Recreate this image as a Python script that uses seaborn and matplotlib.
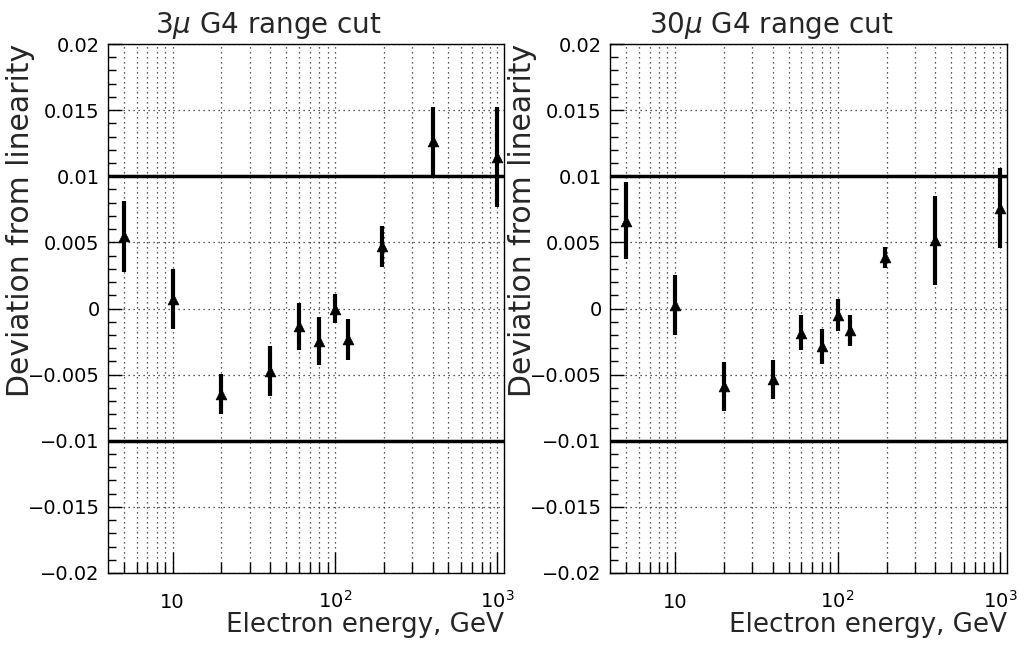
import matplotlib
matplotlib.use("Agg")
import matplotlib.pyplot as plt
import seaborn as sns
import pandas as pd
from matplotlib.ticker import FixedLocator, FixedFormatter, MultipleLocator, FuncFormatter

# Beam energies (GeV)
energy = [5, 10, 20, 40, 60, 80, 100, 120, 195, 400, 1000]

# Deviation from linearity and its uncertainty, 3 micron range cut
dev_3um = [0.00545, 0.0007, -0.00648, -0.00474, -0.00136, -0.00247, 0.0,
           -0.00234, 0.0047, 0.01263, 0.01144]
err_3um = [0.0027, 0.00227, 0.0015, 0.00187, 0.00177, 0.0018, 0.0011,
           0.00158, 0.00155, 0.00257, 0.00376]

# Deviation from linearity and its uncertainty, 30 micron range cut
dev_30um = [0.00663, 0.00025, -0.00588, -0.00535, -0.00182, -0.00287, -0.00049,
            -0.00164, 0.00388, 0.00515, 0.00761]
err_30um = [0.0029, 0.00227, 0.00187, 0.00149, 0.00134, 0.00129, 0.0012,
            0.00116, 0.00078, 0.00337, 0.003]

titles = ["3$\\mu$ G4 range cut", "30$\\mu$ G4 range cut"]
limits = [0.01, -0.01]
xtick_vals = [10, 100, 1000]
xtick_labels = ["10", "$10^{2}$", "$10^{3}$"]
xlabel = "Electron energy, GeV"
ylabel = "Deviation from linearity"

sns.set_theme(style="white")
plt.rcParams["font.family"] = ["DejaVu Sans"]
plt.rcParams["mathtext.fontset"] = "dejavusans"
plt.rcParams["axes.unicode_minus"] = True

W, H = 1030, 649
fig = plt.figure(figsize=(W / 100, H / 100), dpi=100)
fig.patch.set_facecolor("white")

boxes = [(108, 44, 504, 573), (610, 44, 1007, 573)]
panels = [(dev_3um, err_3um), (dev_30um, err_30um)]


def yfmt(v, _pos):
    if abs(v) < 1e-12:
        return "0"
    s = f"{v:.3f}".rstrip("0")
    return s.replace("-", "\u2212")


for (x0, y0, x1, y1), (dev, err), title in zip(boxes, panels, titles):
    ax = fig.add_axes([x0 / W, 1 - y1 / H, (x1 - x0) / W, (y1 - y0) / H])
    ax.set_facecolor("white")
    ax.set_xscale("log")
    ax.set_xlim(4, 1100)
    ax.set_ylim(-0.02, 0.02)

    # dotted grid on every log tick along x, major steps along y
    minors = [m * 10 ** d for d in range(0, 3) for m in range(2, 10)]
    minors = [v for v in minors if 4 < v < 1100 and v not in xtick_vals]
    ax.xaxis.set_major_locator(FixedLocator(xtick_vals))
    ax.xaxis.set_major_formatter(FixedFormatter(xtick_labels))
    ax.xaxis.set_minor_locator(FixedLocator(minors))
    ax.xaxis.set_minor_formatter(FixedFormatter([""] * len(minors)))
    ax.yaxis.set_major_locator(MultipleLocator(0.005))
    ax.yaxis.set_minor_locator(MultipleLocator(0.001))
    ax.yaxis.set_major_formatter(FuncFormatter(yfmt))

    grid_kw = dict(color="0.15", linestyle=(0, (1, 3)), linewidth=0.9)
    ax.grid(True, which="both", axis="x", **grid_kw)
    ax.grid(True, which="major", axis="y", **grid_kw)
    ax.set_axisbelow(True)

    for lim in limits:
        ax.axhline(lim, color="black", linewidth=2.5, zorder=2)

    data = pd.DataFrame({"energy": energy, "dev": dev, "err": err})
    ax.errorbar(data["energy"], data["dev"], yerr=data["err"], fmt="none",
                ecolor="black", elinewidth=3.0, capsize=0, zorder=3)
    sns.scatterplot(data=data, x="energy", y="dev", marker="^", s=60,
                    color="black", edgecolor="black", linewidth=0.5,
                    ax=ax, zorder=4, legend=False)

    ax.tick_params(axis="both", which="both", direction="in",
                   left=True, bottom=True, right=False, top=False,
                   colors="black", width=1)
    ax.tick_params(axis="y", which="major", length=10, labelsize=14, pad=6)
    ax.tick_params(axis="y", which="minor", length=6)
    ax.tick_params(axis="x", which="major", length=15, labelsize=14, pad=25)
    ax.tick_params(axis="x", which="minor", length=8)
    for lab in ax.get_xticklabels():
        lab.set_verticalalignment("baseline")

    for sp in ax.spines.values():
        sp.set_color("black")
        sp.set_linewidth(1.0)
        sp.set_visible(True)

    ax.set_xlabel(xlabel, fontsize=18.8, loc="right", labelpad=0)
    ax.set_ylabel(ylabel, fontsize=21.5, loc="top")
    ax.yaxis.set_label_coords(-0.184, 1.0)
    ax.set_title(title, fontsize=20, x=0.405, pad=8)

fig.savefig("out.png", dpi=100, facecolor="white")
